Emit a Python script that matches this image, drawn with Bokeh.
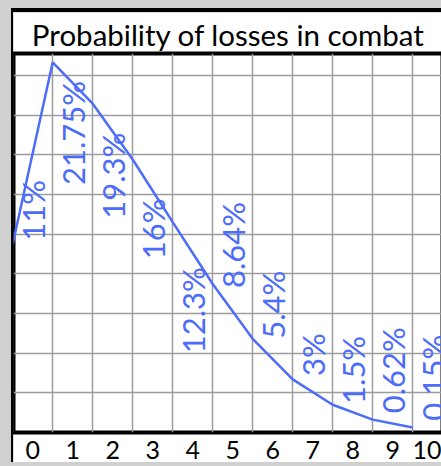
import math
from bokeh.plotting import figure
from bokeh.models import FixedTicker, Range1d, Grid
from bokeh.core.properties import value
from bokeh.embed import file_html
from bokeh.resources import INLINE

# ---- data ----
losses = list(range(11))
probability = [11, 21.75, 19.3, 16, 12.3, 8.64, 5.4, 3, 1.5, 0.62, 0.15]
value_labels = ["11%", "21.75%", "19.3%", "16%", "12.3%", "8.64%",
                "5.4%", "3%", "1.5%", "0.62%", "0.15%"]
tick_labels = [str(i) for i in losses]
chart_title = "Probability of losses in combat"

# ---- style / layout ----
BLUE = "#4d6cfa"
W, H = 430, 454
FRAME_TOP, FRAME_BOTTOM = 38, 420
PX_X = 40
X0 = 0.02
y_lo, y_hi = -0.14, 22.27
pct_per_px = (y_hi - y_lo) / (FRAME_BOTTOM - FRAME_TOP)
cell_pct = 40 * pct_per_px
# where each rotated data label starts (bottom of text), in % units
label_base = [11.2, 14.5, 12.5, 10.1, 4.55, 8.4, 5.4, 3.2, 1.55, 1.0, 0.55]

p = figure(width=W, height=H, output_backend="svg", toolbar_location=None,
           x_range=Range1d(X0, X0 + W / PX_X), y_range=Range1d(y_lo, y_hi),
           min_border_left=0, min_border_right=0,
           min_border_top=FRAME_TOP, min_border_bottom=H - FRAME_BOTTOM,
           y_axis_location=None)
p.styles = {"margin-left": "11px", "margin-top": "8px",
            "border-left": "2px solid black", "border-top": "4px solid black"}
p.background_fill_color = "white"
p.border_fill_color = "white"
p.outline_line_color = "black"
p.outline_line_width = 4

# grids
p.xgrid.visible = False
p.ygrid.visible = False
vgrid = Grid(dimension=0, ticker=FixedTicker(ticks=[float(i) for i in range(0, 12)]),
             grid_line_color="#9c9c9c", grid_line_width=1.5)
hgrid = Grid(dimension=1, ticker=FixedTicker(ticks=[y_lo + k * cell_pct for k in range(1, 10)]),
             grid_line_color="#9c9c9c", grid_line_width=1.5)
p.add_layout(vgrid)
p.add_layout(hgrid)

# title
p.title.text = chart_title
p.title.align = "center"
p.title.text_font = "Lato"
p.title.text_font_size = "29.5px"
p.title.text_font_style = "normal"
p.title.text_color = "black"
p.title.standoff = 4
p.title.offset = -3

# x axis: labels centred in cells
ax = p.xaxis[0]
ax.ticker = FixedTicker(ticks=[i + 0.5 for i in losses])
ax.major_label_overrides = {i + 0.5: t for i, t in zip(losses, tick_labels)}
ax.major_tick_line_color = None
ax.minor_tick_line_color = None
ax.axis_line_color = None
ax.major_label_text_font = "Lato"
ax.major_label_text_font_size = "25px"
ax.major_label_text_color = "black"
ax.major_label_standoff = 2

# data
p.line(losses, probability, line_color=BLUE, line_width=2.5)
p.text(x=[i + 0.5 for i in losses], y=label_base, text=value_labels,
       angle=math.pi / 2, text_align="left", text_baseline="middle",
       text_font=value("Lato"), text_font_size="31px", text_color=BLUE)

html = file_html(p, INLINE, title=chart_title)
html = html.replace("</head>",
                    "<style>html,body{background:#d0d0d0;overflow:hidden;}</style></head>", 1)
open("out.html", "w").write(html)
